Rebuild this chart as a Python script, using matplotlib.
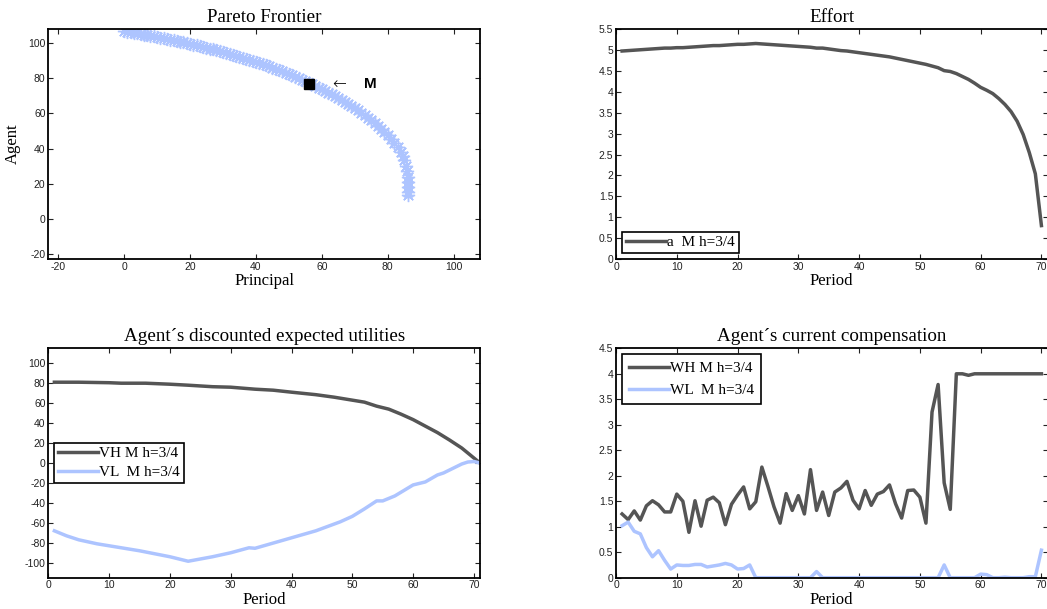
import numpy as np
import matplotlib
matplotlib.use("Agg")
import matplotlib.pyplot as plt
from matplotlib.ticker import FuncFormatter

# ---------------- data ----------------
frontier_principal = [0, 1, 2, 3, 4, 5, 6, 7, 8, 9, 10, 11, 12, 13, 14, 15, 16, 17, 18, 19,
                      20, 21, 22, 23, 24, 25, 26, 27, 28, 29, 30, 31, 32, 33, 34, 35, 36, 37, 38, 39,
                      40, 41, 42, 43, 44, 45, 46, 47, 48, 49, 50, 51, 52, 53, 54, 55, 56, 57, 58, 59,
                      60, 61, 62, 63, 64, 65, 66, 67, 68, 69, 70, 71, 72, 73, 74, 75, 76, 77, 78, 79,
                      80, 81, 82, 83, 84, 84.5, 85, 85.5, 85.8, 86, 86.1, 86.2, 86.3, 86.3]
frontier_agent = [107, 106.7, 106.4, 106.0, 105.7, 105.3, 105.0, 104.6, 104.3, 103.9,
                  103.6, 103.2, 102.9, 102.5, 102.1, 101.7, 101.3, 100.9, 100.5, 100.1,
                  99.7, 99.2, 98.8, 98.3, 97.9, 97.4, 97.0, 96.5, 96.0, 95.5,
                  95.0, 94.5, 94.0, 93.4, 92.9, 92.3, 91.8, 91.2, 90.7, 90.1,
                  89.5, 88.8, 88.2, 87.5, 86.9, 86.2, 85.5, 84.8, 84.1, 83.3,
                  82.6, 81.8, 81.0, 80.2, 79.3, 78.4, 77.5, 76.6, 75.7, 74.7,
                  73.8, 72.9, 71.9, 70.9, 69.8, 68.8, 67.6, 66.5, 65.4, 64.2,
                  63.0, 61.7, 60.4, 59.0, 57.5, 56.0, 54.4, 52.7, 51.0, 49.3,
                  47.5, 45.5, 43.3, 40.8, 37.8, 36.0, 33.5, 30.0, 27.0, 24.0, 21.0, 18.0, 15.0, 13.5]
point_M = (56, 77)

effort_period = list(range(1, 71))
effort = [4.98, 4.99, 5.00, 5.01, 5.02, 5.03, 5.04, 5.05, 5.05, 5.06, 5.06, 5.07, 5.08, 5.09,
          5.10, 5.11, 5.11, 5.12, 5.13, 5.14, 5.14, 5.15, 5.16, 5.15, 5.14, 5.13, 5.12, 5.11,
          5.10, 5.09, 5.08, 5.07, 5.05, 5.05, 5.03, 5.01, 4.99, 4.98, 4.96, 4.94, 4.92, 4.90,
          4.88, 4.86, 4.84, 4.81, 4.78, 4.75, 4.72, 4.69, 4.66, 4.62, 4.58, 4.51, 4.49, 4.44,
          4.37, 4.30, 4.21, 4.11, 4.04, 3.96, 3.84, 3.70, 3.53, 3.30, 2.98, 2.55, 2.04, 0.80]

util_period = [1, 3, 5, 8, 10, 12, 16, 20, 23, 27, 30, 34, 37, 40, 44, 47, 50, 52, 54, 56, 58,
               60, 62, 64, 66, 68, 70, 71]
VH = [81, 81, 81, 80.7, 80.5, 80, 80, 79, 78, 76.5, 76, 74, 73, 71, 68.5, 66, 63, 61, 57, 54,
      49, 43.5, 37, 30.5, 23, 15, 5, 0]
vl_period = [1, 3, 5, 8, 10, 15, 20, 23, 27, 30, 33, 34, 36, 40, 44, 48, 50, 52, 54, 55, 57,
             60, 62, 64, 65, 66, 68, 69, 70, 71]
VL = [-68, -73, -77, -81, -83, -88, -94, -98.5, -94, -90, -85, -85.5, -82, -75, -68, -59, -53.5,
      -46, -38, -38, -33, -22, -19, -12, -10, -7, -1, 1, 1.5, 0]

comp_period = list(range(1, 71))
WH = [1.25, 1.14, 1.31, 1.13, 1.41, 1.51, 1.43, 1.29, 1.29, 1.64, 1.50, 0.89, 1.51, 1.01, 1.52,
      1.58, 1.47, 1.04, 1.44, 1.62, 1.78, 1.35, 1.49, 2.17, 1.79, 1.39, 1.07, 1.65, 1.32, 1.61,
      1.25, 2.12, 1.32, 1.68, 1.22, 1.68, 1.76, 1.89, 1.52, 1.35, 1.71, 1.42, 1.64, 1.69, 1.82,
      1.45, 1.17, 1.71, 1.72, 1.58, 1.07, 3.25, 3.79, 1.86, 1.34, 4.0, 4.0, 3.97, 4.0, 4.0,
      4.0, 4.0, 4.0, 4.0, 4.0, 4.0, 4.0, 4.0, 4.0, 4.0]
WL = [1.02, 1.09, 0.91, 0.86, 0.59, 0.41, 0.53, 0.34, 0.17, 0.25, 0.24, 0.24, 0.26, 0.26, 0.21,
      0.23, 0.25, 0.28, 0.25, 0.17, 0.18, 0.25, 0, 0, 0, 0, 0, 0, 0, 0,
      0, 0, 0.12, 0, 0, 0, 0, 0, 0, 0, 0, 0, 0, 0, 0, 0, 0, 0, 0, 0,
      0, 0, 0, 0.25, 0, 0, 0, 0, 0, 0.07, 0.06, 0, 0, 0.01, 0, 0, 0, 0.02, 0.02, 0.54]

# ---------------- style ----------------
DARK = "#555555"
LIGHT = "#adc4ff"
SERIF = ["Liberation Serif", "DejaVu Serif"]
SANS = ["Liberation Sans", "DejaVu Sans"]
plt.rcParams["font.family"] = SANS

W, H = 1047, 609
fig = plt.figure(figsize=(W / 100, H / 100), dpi=100)

TITLE_FS = 13.7
LABEL_FS = 12


def px_axes(left, top, right, bottom):
    return fig.add_axes([left / W, 1 - bottom / H, (right - left) / W, (bottom - top) / H])


def style(ax):
    ax.tick_params(direction="in", top=True, right=True, length=3.5, width=0.8,
                   labelsize=7.5, colors="#222222", pad=2)
    for s in ax.spines.values():
        s.set_linewidth(1.3)
        s.set_color("black")
    ax.yaxis.set_major_formatter(FuncFormatter(lambda v, p: "%g" % v))
    ax.xaxis.set_major_formatter(FuncFormatter(lambda v, p: "%g" % v))


def legend(ax, labelspacing=0.3, borderpad=0.25, **kw):
    lg = ax.legend(prop={"family": SERIF, "size": 11}, fancybox=False, framealpha=1,
                   edgecolor="black", handlelength=2.6, handletextpad=0.1,
                   borderpad=borderpad, labelspacing=labelspacing, borderaxespad=0.4, **kw)
    lg.get_frame().set_linewidth(1.2)
    return lg


# ---- Pareto frontier ----
ax1 = px_axes(48.3, 29.3, 480, 259)
ax1.plot(frontier_principal, frontier_agent, linestyle="none", marker=(8, 2, 0),
         markersize=9.5, color=LIGHT, markeredgewidth=1.0)
ax1.plot([point_M[0]], [point_M[1]], marker="s", markersize=7, color="black", linestyle="none")
ax1.text(63.0, point_M[1], "\u2190", fontsize=12, va="center", ha="left",
         family=["DejaVu Sans"], fontweight="light")
ax1.text(72.9, point_M[1], "M", fontsize=11, fontweight="bold", va="center",
         ha="left", family=SANS)
ax1.set_xlim(-23, 108)
ax1.set_ylim(-23, 108)
ax1.set_xticks(range(-20, 101, 20))
ax1.set_yticks(range(-20, 101, 20))
style(ax1)
ax1.set_title("Pareto Frontier", family=SERIF, fontsize=TITLE_FS, pad=5)
ax1.set_xlabel("Principal", family=SERIF, fontsize=LABEL_FS, labelpad=1)
ax1.set_ylabel("Agent", family=SERIF, fontsize=LABEL_FS, labelpad=5)

# ---- Effort ----
ax2 = px_axes(616, 29.3, 1047.5, 259)
ax2.plot(effort_period, effort, color=DARK, lw=2.5, label="a  M h=3/4")
ax2.set_xlim(0, 71)
ax2.set_ylim(0, 5.5)
ax2.set_xticks(range(0, 71, 10))
ax2.set_yticks(np.arange(0, 5.51, 0.5))
style(ax2)
ax2.set_title("Effort", family=SERIF, fontsize=TITLE_FS, pad=5)
ax2.set_xlabel("Period", family=SERIF, fontsize=LABEL_FS, labelpad=1)
legend(ax2, loc="lower left")

# ---- Utilities ----
ax3 = px_axes(48.3, 348.3, 480, 577.7)
ax3.plot(util_period, VH, color=DARK, lw=2.5, label="VH M h=3/4")
ax3.plot(vl_period, VL, color=LIGHT, lw=2.5, label="VL  M h=3/4")
ax3.set_xlim(0, 71)
ax3.set_ylim(-115, 115)
ax3.set_xticks(range(0, 71, 10))
ax3.set_yticks(range(-100, 101, 20))
style(ax3)
ax3.set_title("Agent\u00b4s discounted expected utilities", family=SERIF, fontsize=TITLE_FS, pad=5)
ax3.set_xlabel("Period", family=SERIF, fontsize=LABEL_FS, labelpad=1)
legend(ax3, loc="center left", bbox_to_anchor=(0.0, 0.50), labelspacing=0.35)

# ---- Compensation ----
ax4 = px_axes(616, 348.3, 1047.5, 577.7)
ax4.plot(comp_period, WH, color=DARK, lw=2.5, label="WH M h=3/4")
ax4.plot(comp_period, WL, color=LIGHT, lw=2.5, label="WL  M h=3/4")
ax4.set_xlim(0, 71)
ax4.set_ylim(0, 4.5)
ax4.set_xticks(range(0, 71, 10))
ax4.set_yticks(np.arange(0, 4.51, 0.5))
style(ax4)
ax4.set_title("Agent\u00b4s current compensation", family=SERIF, fontsize=TITLE_FS, pad=5)
ax4.set_xlabel("Period", family=SERIF, fontsize=LABEL_FS, labelpad=1)
legend(ax4, loc="upper left", labelspacing=0.55, borderpad=0.45)

fig.savefig("out.png", dpi=100)
